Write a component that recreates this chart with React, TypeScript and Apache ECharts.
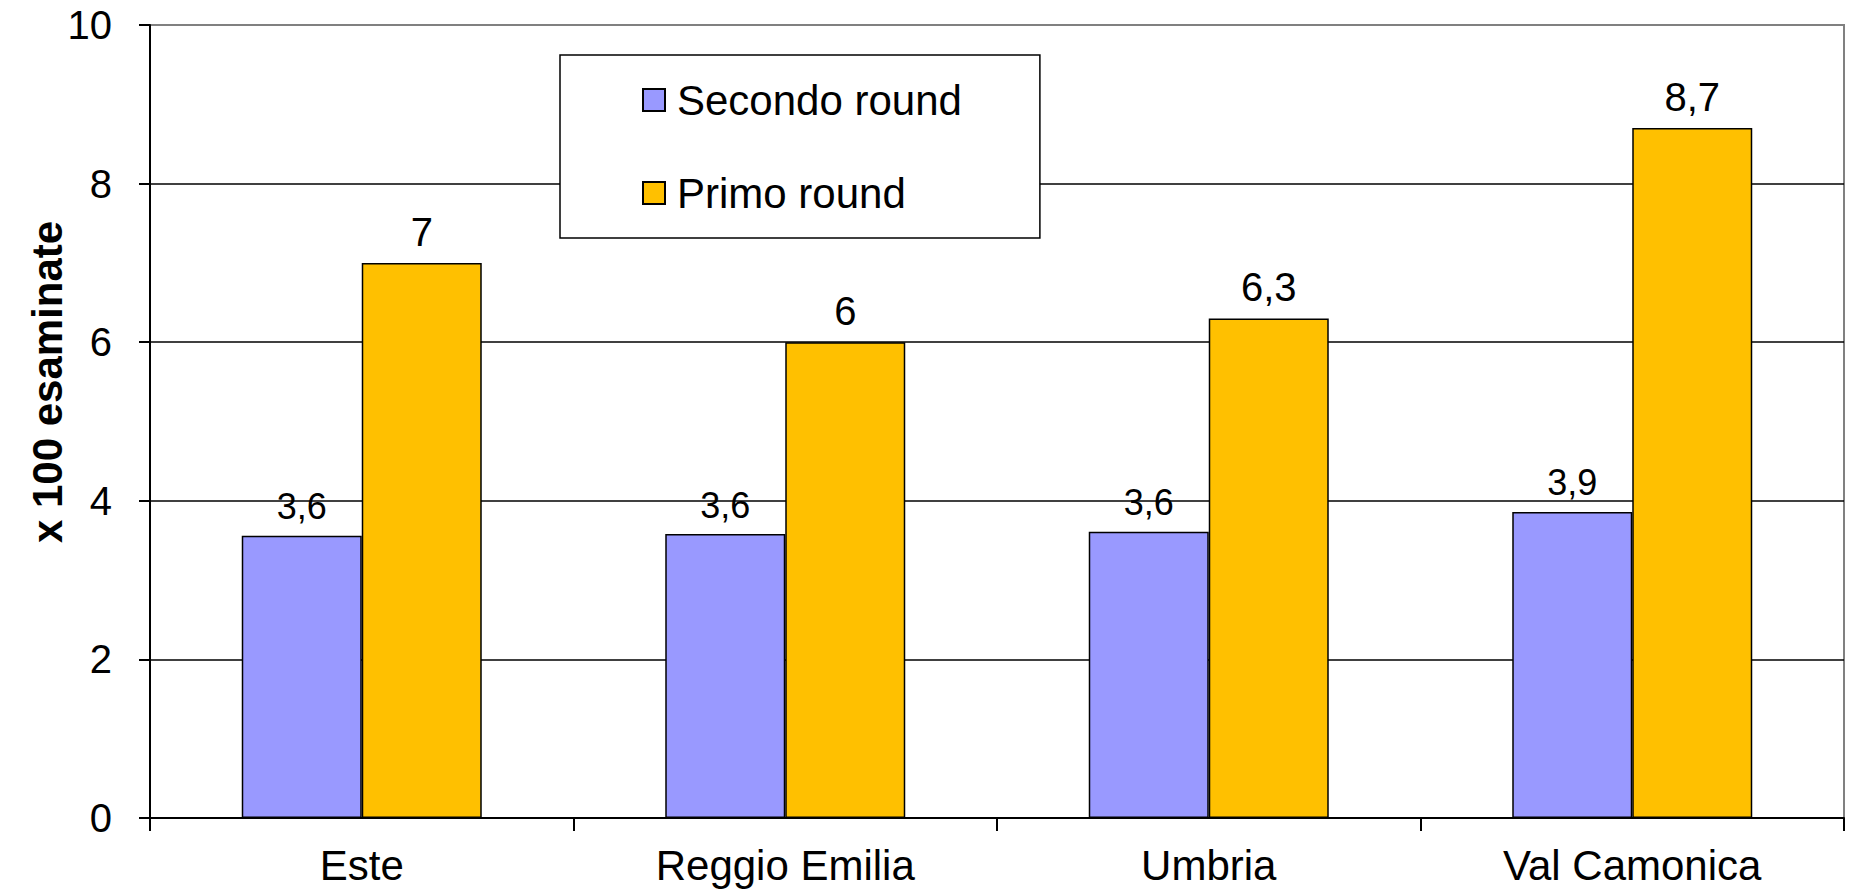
import React, { useEffect, useRef } from "react";
import * as echarts from "echarts";

const categories = ["Este", "Reggio Emilia", "Umbria", "Val Camonica"];
const seriesNames = ["Secondo round", "Primo round"];
const secondoRound = [3.56, 3.58, 3.61, 3.86];
const primoRound = [7.0, 6.0, 6.3, 8.7];
const yTicks = { min: 0, max: 10, interval: 2 };
const yTitle = "x 100 esaminate";

const FONT = "'Liberation Sans', Arial, Helvetica, sans-serif";

const fmt = (v: number) => {
  const r = Math.round(v * 10) / 10;
  return (Number.isInteger(r) ? String(r) : r.toFixed(1)).replace(".", ",");
};

export default function App() {
  const ref = useRef<HTMLDivElement>(null);
  useEffect(() => {
    document.body.style.margin = "0";
    const chart = echarts.init(ref.current!, null, { renderer: "svg" });
    chart.setOption({
      animation: false,
      backgroundColor: "#ffffff",
      textStyle: { fontFamily: FONT, color: "#000" },
      grid: {
        left: 150,
        right: 13,
        top: 25,
        bottom: 78,
        show: true,
        borderColor: "#808080",
        borderWidth: 2,
        backgroundColor: "transparent",
      },
      legend: {
        data: seriesNames,
        orient: "vertical",
        icon: "rect",
        left: 560,
        top: 55,
        padding: [22, 78, 22, 82],
        itemGap: 47,
        itemWidth: 22,
        itemHeight: 22,
        backgroundColor: "#ffffff",
        borderColor: "#000",
        borderWidth: 1.5,
        textStyle: {
          fontFamily: FONT,
          fontSize: 42,
          color: "#000",
          lineHeight: 46,
          padding: [0, 0, 0, 7],
        },
      },
      xAxis: {
        type: "category",
        data: categories,
        axisLine: { lineStyle: { color: "#000", width: 2 } },
        axisTick: { show: true, length: 13, lineStyle: { color: "#000", width: 2 } },
        axisLabel: { fontFamily: FONT, fontSize: 42, color: "#000", margin: 26 },
      },
      yAxis: {
        type: "value",
        min: yTicks.min,
        max: yTicks.max,
        interval: yTicks.interval,
        axisLine: { show: true, lineStyle: { color: "#000", width: 2 } },
        axisTick: { show: true, length: 11, lineStyle: { color: "#000", width: 2 } },
        axisLabel: { fontFamily: FONT, fontSize: 40, color: "#000", margin: 38 },
        splitLine: {
          show: true,
          showMaxLine: false,
          lineStyle: { color: "#000", width: 1.5 },
        },
      },
      graphic: [
        {
          type: "text",
          x: 47,
          y: 382,
          rotation: Math.PI / 2,
          style: {
            text: yTitle,
            font: `bold 42px ${FONT}`,
            fill: "#000",
            align: "center",
            verticalAlign: "middle",
          },
        },
      ],
      series: [
        {
          name: seriesNames[0],
          type: "bar",
          data: secondoRound,
          barWidth: 120,
          barGap: "0%",
          itemStyle: { color: "#9999FF", borderColor: "#000", borderWidth: 1.5 },
          label: {
            show: true,
            position: "top",
            distance: 11,
            fontFamily: FONT,
            fontSize: 36,
            color: "#000",
            formatter: (p: any) => fmt(p.value),
          },
        },
        {
          name: seriesNames[1],
          type: "bar",
          data: primoRound,
          barWidth: 120,
          barGap: "0%",
          itemStyle: { color: "#FFC000", borderColor: "#000", borderWidth: 1.5 },
          label: {
            show: true,
            position: "top",
            distance: 11,
            fontFamily: FONT,
            fontSize: 40,
            color: "#000",
            formatter: (p: any) => fmt(p.value),
          },
        },
      ],
    });
    return () => chart.dispose();
  }, []);
  return <div ref={ref} style={{ width: 1857, height: 896 }} />;
}
